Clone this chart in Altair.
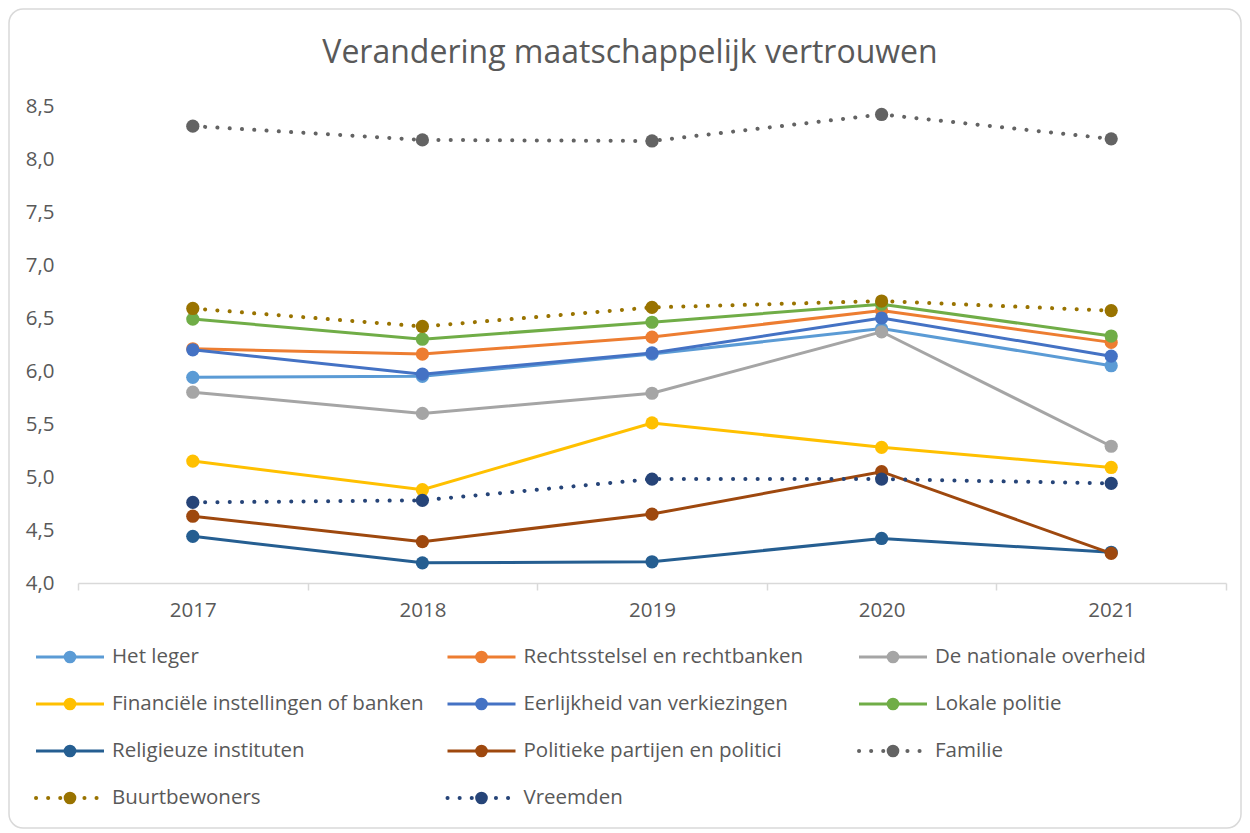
import altair as alt
import pandas as pd

years = ["2017", "2018", "2019", "2020", "2021"]
series = [
    "Het leger",
    "Rechtsstelsel en rechtbanken",
    "De nationale overheid",
    "Financiële instellingen of banken",
    "Eerlijkheid van verkiezingen",
    "Lokale politie",
    "Religieuze instituten",
    "Politieke partijen en politici",
    "Familie",
    "Buurtbewoners",
    "Vreemden",
]
het_leger = [5.94, 5.95, 6.16, 6.40, 6.05]
rechtsstelsel = [6.21, 6.16, 6.32, 6.57, 6.27]
nationale_overheid = [5.80, 5.60, 5.79, 6.37, 5.29]
financiele = [5.15, 4.88, 5.51, 5.28, 5.09]
eerlijkheid = [6.20, 5.97, 6.17, 6.50, 6.14]
lokale_politie = [6.49, 6.30, 6.46, 6.63, 6.33]
religieuze = [4.44, 4.19, 4.20, 4.42, 4.29]
politieke = [4.63, 4.39, 4.65, 5.05, 4.28]
familie = [8.31, 8.18, 8.17, 8.42, 8.19]
buurtbewoners = [6.59, 6.42, 6.60, 6.66, 6.57]
vreemden = [4.76, 4.78, 4.98, 4.98, 4.94]
values = [het_leger, rechtsstelsel, nationale_overheid, financiele, eerlijkheid,
          lokale_politie, religieuze, politieke, familie, buurtbewoners, vreemden]
colors = ["#5B9BD5", "#ED7D31", "#A5A5A5", "#FFC000", "#4472C4", "#70AD47",
          "#255E91", "#9E480E", "#636363", "#997300", "#264478"]
dotted = [False] * 8 + [True] * 3
y_ticks = [4.0, 4.5, 5.0, 5.5, 6.0, 6.5, 7.0, 7.5, 8.0, 8.5]
title_text = "Verandering maatschappelijk vertrouwen"

FONT = "Open Sans"
TXT = "#595959"
FS = 20.5

rows = []
for s, vals in zip(series, values):
    for yr, v in zip(years, vals):
        rows.append({"Reeks": s, "Jaar": yr, "Waarde": v})
df = pd.DataFrame(rows)

color_scale = alt.Scale(domain=series, range=colors)
x_enc = alt.X("Jaar:O", scale=alt.Scale(type="band", domain=years, paddingInner=0, paddingOuter=0),
              axis=alt.Axis(title=None, tickBand="extent", domainColor="#D9D9D9", domainWidth=1.5,
                            tickColor="#D9D9D9", tickWidth=1.5, tickSize=7, labelPadding=10,
                            labelAngle=0, labelFont=FONT, labelFontSize=FS, labelColor=TXT))
y_enc = alt.Y("Waarde:Q", scale=alt.Scale(domain=[4.0, 8.5], nice=False, zero=False),
              axis=alt.Axis(title=None, values=y_ticks, grid=False, domain=False, ticks=False,
                            labelPadding=24, labelFont=FONT, labelFontSize=FS, labelColor=TXT,
                            labelExpr="replace(format(datum.value, '.1f'), '.', ',')"))

one = pd.DataFrame({"t": [title_text]})
# chart-area frame (decoration) and title
frame = alt.Chart(one).mark_rect(fill="white", fillOpacity=0, stroke="#D9D9D9", strokeWidth=1.5,
                                 cornerRadius=14).encode(
    x=alt.value(-69), x2=alt.value(1163), y=alt.value(-97), y2=alt.value(722))
title = alt.Chart(one).mark_text(font=FONT, fontSize=32, color=TXT, align="center",
                                 baseline="alphabetic").encode(
    x=alt.value(552), y=alt.value(-43), text="t:N")

layers = [frame, title]
for s, dot in zip(series, dotted):
    base = alt.Chart(df).transform_filter(alt.datum.Reeks == s)
    if dot:
        line = base.mark_line(strokeWidth=4, strokeCap="round", strokeDash=[0.1, 12.2])
    else:
        line = base.mark_line(strokeWidth=3, strokeCap="round")
    line = line.encode(x=x_enc, y=y_enc,
                       color=alt.Color("Reeks:N", scale=color_scale, legend=None))
    pts = base.mark_point(filled=True, opacity=1, size=175, shape="circle").encode(
        x=x_enc, y=y_enc, color=alt.Color("Reeks:N", scale=color_scale, legend=None))
    layers += [line, pts]

main = alt.layer(*layers).properties(width=1148, height=477)

# legend built from the series list
leg_df = pd.DataFrame({"Reeks": series, "idx": list(range(len(series))),
                       "stijl": ["dotted" if d else "solid" for d in dotted]})
leg_base = alt.Chart(leg_df).transform_calculate(
    col="datum.idx % 3", row="floor(datum.idx / 3)"
).transform_calculate(
    x0="datum.col * 411.5 - 42", xc="datum.col * 411.5 - 8",
    x1="datum.col * 411.5 + 26", xt="datum.col * 411.5 + 34"
)
lx = alt.Scale(domain=[0, 1148], range=[0, 1148])
ly = alt.Scale(domain=[3.5, -0.5], nice=False, zero=False)
leg_color = alt.Color("Reeks:N", scale=color_scale, legend=None)

leg_solid = leg_base.transform_filter(alt.datum.stijl == "solid").mark_rule(
    strokeWidth=3).encode(
    x=alt.X("x0:Q", scale=lx, axis=None), x2="x1:Q",
    y=alt.Y("row:Q", scale=ly, axis=None), color=leg_color)
leg_dot = leg_base.transform_filter(alt.datum.stijl == "dotted").mark_rule(
    strokeWidth=4, strokeCap="round", strokeDash=[0.1, 12]).encode(
    x=alt.X("x0:Q", scale=lx, axis=None), x2="x1:Q",
    y=alt.Y("row:Q", scale=ly, axis=None), color=leg_color)
leg_pt = leg_base.mark_point(filled=True, opacity=1, size=160, shape="circle").encode(
    x=alt.X("xc:Q", scale=lx, axis=None),
    y=alt.Y("row:Q", scale=ly, axis=None), color=leg_color)
leg_txt = leg_base.mark_text(align="left", baseline="middle", font=FONT, fontSize=FS,
                             color=TXT).encode(
    x=alt.X("xt:Q", scale=lx, axis=None),
    y=alt.Y("row:Q", scale=ly, axis=None), text="Reeks:N")

legend = alt.layer(leg_solid, leg_dot, leg_pt, leg_txt).properties(width=1148, height=188)

chart = alt.vconcat(main, legend, spacing=50.5, bounds="flush").properties(
    padding={"top": 0, "left": 0, "right": 0, "bottom": 0}
).configure(background="white").configure_view(stroke=None)

chart.save("out.html", embed_options={"renderer": "svg", "actions": False})
